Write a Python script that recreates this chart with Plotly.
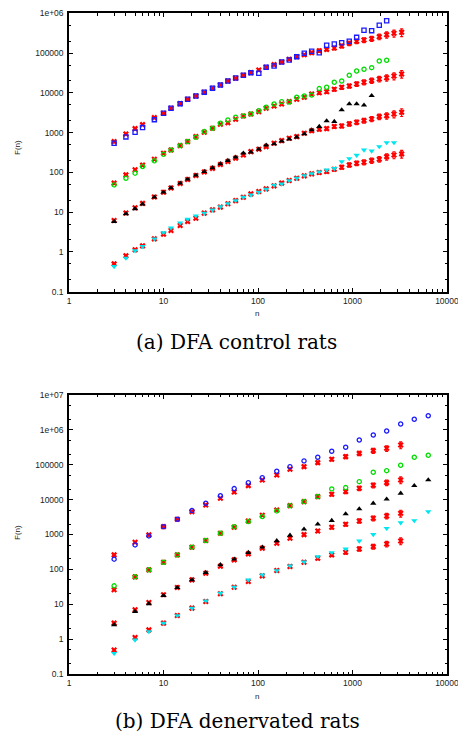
import plotly.graph_objects as go

# ---------------- data: (a) control rats ----------------
N_TOP = [3, 4, 5, 6, 8, 10, 12, 15, 18, 22, 27, 33, 40, 48, 58, 70, 84, 102, 122, 148,
         178, 214, 257, 309, 370, 445, 533, 642, 769, 925, 1107, 1324, 1596, 1921, 2300, 2750, 3315]

top_blue = [542, 780, 1020, 1340, 2120, 3070, 4100, 5350, 6900, 8360, 10400, 13100, 15800, 19900,
            23700, 27700, 32200, 31000, 44000, 47400, 59700, 67100, 81300, 98900, 111000, 102000,
            157000, 169000, 182000, 198000, 249000, 374000, 366000, 499000, 652000]
top_red1 = [594, 927, 1260, 1590, 2380, 3070, 4100, 5360, 6900, 8360, 10400, 13100, 15800, 19900,
            23300, 27700, 32200, 37600, 44000, 51200, 59700, 69800, 81300, 91200, 102000, 115000,
            124000, 134000, 151000, 176000, 198000, 213000, 230000, 258000, 290000, 314000, 333000]
top_green = [48.5, 71.4, 95.5, 140, 195, 286, 367, 471, 594, 766, 1060, 1290, 1720, 2080, 2440,
             2630, 2950, 3570, 4350, 5260, 6010, 5900, 7740, 8360, 8850, 12800, 13800, 18500,
             19900, 27700, 35500, 39200, 43000, 63400, 65900]
top_red2 = [53.6, 86.5, 116, 152, 215, 303, 367, 471, 594, 794, 1020, 1290, 1620, 1780, 2170,
            2630, 2950, 3370, 4100, 4690, 5260, 6010, 6900, 7740, 9380, 10100, 10700, 12300,
            13800, 14900, 16700, 18500, 20300, 22300, 24100, 26600, 29900]
top_black = [5.81, 9.06, 12.1, 15.9, 23.8, 31.8, 40.8, 53.6, 67.5, 85.1, 105, 130, 164, 198, 241,
             303, 322, 383, 482, 520, 608, 682, 766, 927, 1170, 1420, 1970, 1890, 3720, 5260,
             5260, 4880, 8510]
top_red3 = [6.17, 9.55, 12.9, 16.6, 24.0, 31.6, 40.7, 52.5, 66.1, 83.2, 102, 126, 158, 187, 228,
            275, 333, 383, 445, 542, 630, 723, 793, 966, 1120, 1220, 1260, 1420, 1470, 1660,
            1820, 2000, 2210, 2520, 2670, 2950, 3260]
top_cyan = [0.43, 0.70, 1.07, 1.37, 2.13, 3.07, 4.04, 5.38, 6.67, 8.07, 9.44, 11.4, 13.8, 16.4,
            19.5, 23.8, 27.0, 31.8, 37.8, 47.6, 51.4, 62.2, 71.4, 83.2, 93.3, 103, 116, 126, 187,
            222, 270, 367, 347, 445, 561, 561]
top_red4 = [0.50, 0.80, 1.13, 1.42, 2.13, 2.80, 3.45, 4.60, 5.81, 7.06, 9.44, 11.4, 13.4, 16.2,
            19.5, 23.8, 28.8, 33.0, 38.5, 45.8, 53.6, 62.2, 71.4, 81.7, 91.6, 98.9, 105, 120, 135,
            154, 170, 180, 198, 215, 249, 275, 292]
top_err_pct = [2, 2, 2, 2, 2, 2, 2, 2, 2, 3, 3, 3, 3, 3, 4, 4, 4, 5, 5, 5, 6, 6, 7, 7, 8, 9, 9,
               10, 11, 12, 13, 14, 15, 16, 18, 20, 22]

# ---------------- data: (b) denervated rats ----------------
N_BOT = [3, 5, 7, 10, 14, 20, 28, 40, 56, 79, 111, 158, 218, 307, 429, 603, 847, 1180, 1660,
         2300, 3236, 4510, 6340]

bot_blue = [196, 504, 912, 1680, 2740, 4840, 7890, 13000, 20700, 30700, 42700, 65200, 88300,
            129000, 164000, 244000, 317000, 514000, 714000, 929000, 1480000, 2010000, 2550000]
bot_red1 = [260, 601, 975, 1680, 2740, 4530, 7050, 11000, 16600, 25200, 36600, 51100, 74300,
            88300, 115000, 144000, 171000, 212000, 254000, 296000, 369000]
bot_green = [33.7, 61.0, 96.8, 160, 260, 433, 671, 1090, 1680, 2340, 3260, 4740, 6730, 8770,
             12200, 20300, 22100, 32800, 61000, 67800, 96600, 164000, 187000]
bot_red2 = [25.9, 61.0, 96.8, 160, 260, 433, 671, 1090, 1610, 2450, 3570, 5070, 6730, 8770,
            12200, 14300, 17000, 21200, 25800, 30700, 36600]
bot_black = [2.57, 6.18, 10.3, 17.8, 30.1, 50.0, 80.9, 135, 196, 303, 433, 661, 944, 1420, 1970,
             2500, 3890, 5410, 7870, 10300, 15200, 25200, 36600]
bot_red3 = [2.87, 6.92, 11.2, 18.6, 30.1, 50.0, 77.6, 123, 187, 278, 405, 562, 783, 993, 1260,
            1610, 1970, 2450, 2920, 3410, 4060]
bot_cyan = [0.39, 0.95, 1.65, 2.87, 4.74, 7.73, 12.5, 20.8, 30.9, 50.0, 69.5, 92.5, 126, 164,
            233, 303, 386, 656, 1000, 1510, 2190, 2500, 4530]
bot_red4 = [0.49, 1.11, 1.84, 2.87, 4.74, 7.73, 12.0, 19.9, 30.9, 44.7, 65.2, 92.5, 121, 160,
            209, 260, 310, 386, 449, 535, 652]
bot_err_pct = [2, 2, 2, 2, 2, 3, 3, 3, 4, 4, 5, 6, 7, 8, 9, 10, 12, 14, 16, 18, 22]

X_TICKS = [1, 10, 100, 1000, 10000]
X_TICKTEXT = ["1", "10", "100", "1000", "10000"]
Y_TICKS_TOP = [0.1, 1, 10, 100, 1000, 10000, 100000, 1000000]
Y_TICKTEXT_TOP = ["0.1", "1", "10", "100", "1000", "10000", "100000", "1e+06"]
Y_TICKS_BOT = [0.1, 1, 10, 100, 1000, 10000, 100000, 1000000, 10000000]
Y_TICKTEXT_BOT = ["0.1", "1", "10", "100", "1000", "10000", "100000", "1e+06", "1e+07"]

CAPTION_A = "(a) DFA control rats"
CAPTION_B = "(b) DFA denervated rats"

RED = "#ff0000"
BLUE = "#1a1aff"
GREEN = "#00dd00"
BLACK = "#000000"
CYAN = "#00e5ee"

fig = go.Figure()


def red_series(n, y, pct, xa, ya):
    err = [v * p / 100.0 for v, p in zip(y, pct)]
    fig.add_trace(go.Scatter(
        x=n[:len(y)], y=y, mode="markers", xaxis=xa, yaxis=ya,
        marker=dict(symbol="x-thin-open", size=4.5, color=RED, line=dict(color=RED, width=2.2)),
        error_y=dict(type="data", array=err, color=RED, thickness=1.2, width=1.5, visible=True),
        showlegend=False, hoverinfo="skip"))


def col_series(n, y, symbol, color, xa, ya, size=4.2, lw=1.3):
    fig.add_trace(go.Scatter(
        x=n[:len(y)], y=y, mode="markers", xaxis=xa, yaxis=ya,
        marker=dict(symbol=symbol, size=size, color=color, line=dict(color=color, width=lw)),
        showlegend=False, hoverinfo="skip"))


# top panel
red_series(N_TOP, top_red1, top_err_pct, "x", "y")
red_series(N_TOP, top_red2, top_err_pct, "x", "y")
red_series(N_TOP, top_red3, top_err_pct, "x", "y")
red_series(N_TOP, top_red4, top_err_pct, "x", "y")
col_series(N_TOP, top_blue, "square-open", BLUE, "x", "y")
col_series(N_TOP, top_green, "circle-open", GREEN, "x", "y")
col_series(N_TOP, top_black, "triangle-up", BLACK, "x", "y", size=5.5, lw=0)
col_series(N_TOP, top_cyan, "triangle-down", CYAN, "x", "y", size=5.5, lw=0)

# bottom panel
red_series(N_BOT, bot_red1, bot_err_pct, "x2", "y2")
red_series(N_BOT, bot_red2, bot_err_pct, "x2", "y2")
red_series(N_BOT, bot_red3, bot_err_pct, "x2", "y2")
red_series(N_BOT, bot_red4, bot_err_pct, "x2", "y2")
col_series(N_BOT, bot_blue, "circle-open", BLUE, "x2", "y2")
col_series(N_BOT, bot_green, "circle-open", GREEN, "x2", "y2")
col_series(N_BOT, bot_black, "triangle-up", BLACK, "x2", "y2", size=5.5, lw=0)
col_series(N_BOT, bot_cyan, "triangle-down", CYAN, "x2", "y2", size=5.5, lw=0)

TICKFONT = dict(family="Liberation Sans, Arial, sans-serif", size=8.5, color="#222222")
XDOM = [69 / 458, 447 / 458]


def xaxis_cfg(anchor):
    return dict(type="log", range=[-0.0004, 4.0004], domain=XDOM, anchor=anchor,
                tickvals=X_TICKS, ticktext=X_TICKTEXT, tickfont=TICKFONT,
                ticklabeloverflow="allow", automargin=False,
                ticks="inside", ticklen=4, tickwidth=1, tickcolor="black",
                showline=True, linecolor="black", linewidth=1.5, mirror="allticks",
                showgrid=False, zeroline=False,
                minor=dict(ticks="inside", ticklen=2.5, tickwidth=1, tickcolor="black",
                           dtick="D1", showgrid=False))


def yaxis_cfg(anchor, rng, dom, tv, tt):
    return dict(type="log", range=rng, domain=dom, anchor=anchor,
                tickvals=tv, ticktext=tt, tickfont=TICKFONT,
                ticklabeloverflow="allow", automargin=False,
                ticks="inside", ticklen=4, tickwidth=1, tickcolor="black",
                showline=True, linecolor="black", linewidth=1.5, mirror="allticks",
                showgrid=False, zeroline=False, ticklabelstandoff=2,
                minor=dict(ticks="inside", ticklen=2.5, tickwidth=1, tickcolor="black",
                           dtick="D2", showgrid=False))


fig.update_layout(
    width=458, height=736, margin=dict(l=0, r=0, t=0, b=0, autoexpand=False),
    paper_bgcolor="white", plot_bgcolor="white",
    xaxis=xaxis_cfg("y"),
    yaxis=yaxis_cfg("x", [-1.0004, 6.0004], [444.3 / 736, 722.7 / 736], Y_TICKS_TOP, Y_TICKTEXT_TOP),
    xaxis2=xaxis_cfg("y2"),
    yaxis2=yaxis_cfg("x2", [-1.0004, 7.0004], [62 / 736, 341 / 736], Y_TICKS_BOT, Y_TICKTEXT_BOT),
)

LABELFONT = dict(family="Liberation Sans, Arial, sans-serif", size=8, color="#222222")
CAPFONT = dict(family="DejaVu Serif, serif", size=20, color="black")

annotations = [
    dict(text="F(n)", x=17 / 458, y=1 - 148 / 736, textangle=-90, font=LABELFONT),
    dict(text="n", x=257 / 458, y=1 - 313 / 736, font=LABELFONT),
    dict(text="F(n)", x=17 / 458, y=1 - 533 / 736, textangle=-90, font=LABELFONT),
    dict(text="n", x=257 / 458, y=1 - 696 / 736, font=LABELFONT),
    dict(text=CAPTION_A, x=236.5 / 458, y=1 - 342 / 736, font=CAPFONT),
    dict(text=CAPTION_B, x=237 / 458, y=1 - 721 / 736, font=CAPFONT),
]
for a in annotations:
    a.update(xref="paper", yref="paper", showarrow=False, xanchor="center", yanchor="middle")
fig.update_layout(annotations=annotations)

fig.write_html("out.html", config={"displayModeBar": False},
               post_script="document.body.style.margin='0';")
